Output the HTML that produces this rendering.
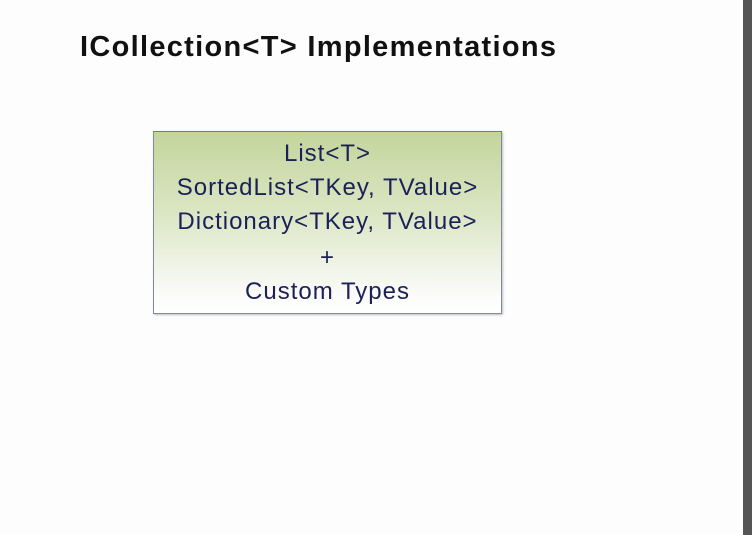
<!DOCTYPE html>
<html><head><style>
html,body{margin:0;padding:0;}
body{width:752px;height:535px;background:#fdfdfd;position:relative;overflow:hidden;font-family:"Liberation Sans",sans-serif;}
#bar{position:absolute;left:743px;top:0;width:9px;height:535px;background:#555;}
#title{position:absolute;left:80px;top:31px;font-size:29px;font-weight:bold;color:#111;letter-spacing:1.3px;}
#box{position:absolute;left:153px;top:131px;width:347px;height:181px;border:1px solid #7f8aa0;border-top:1px solid #5b7fc0;
background:linear-gradient(#c3d59c 0%,#dbe6c4 45%,#fbfbf9 90%,#fff 100%);box-shadow:1px 1px 2px rgba(0,0,0,0.25);
text-align:center;color:#1b2157;font-family:"Liberation Sans",sans-serif;font-size:24px;letter-spacing:1px;}
#box div{position:absolute;left:0;right:0;}
</style></head><body>
<div id="bar"></div>
<div id="title">ICollection&lt;T&gt; Implementations</div>
<div id="box">
<div style="top:8px">List&lt;T&gt;</div>
<div style="top:42px">SortedList&lt;TKey, TValue&gt;</div>
<div style="top:76px">Dictionary&lt;TKey, TValue&gt;</div>
<div style="top:112px">+</div>
<div style="top:146px">Custom Types</div>
</div>
</body></html>
